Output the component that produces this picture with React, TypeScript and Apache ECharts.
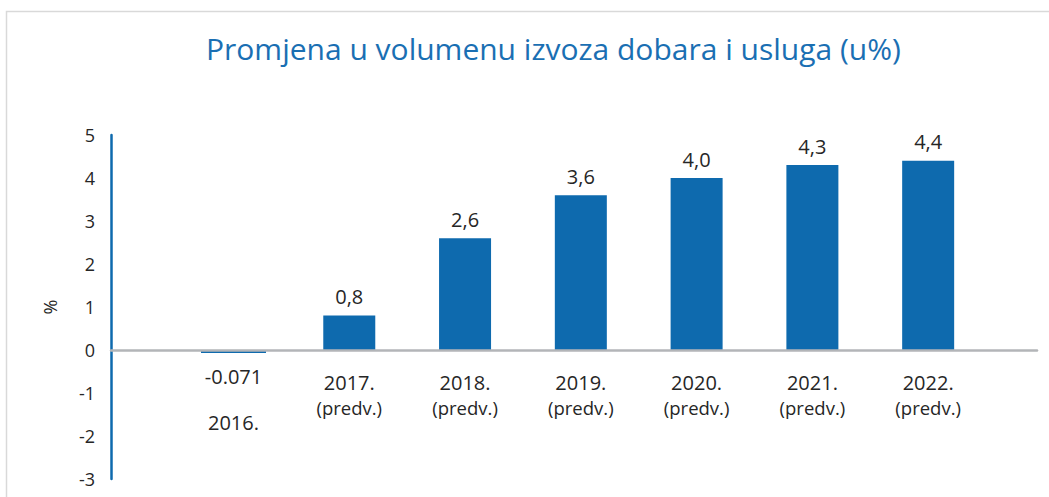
import React, { useEffect, useRef } from "react";
import * as echarts from "echarts";

const titleText = "Promjena u volumenu izvoza dobara i usluga (u%)";
const years = ["2016.", "2017.", "2018.", "2019.", "2020.", "2021.", "2022."];
const subLabels = ["", "(predv.)", "(predv.)", "(predv.)", "(predv.)", "(predv.)", "(predv.)"];
const values = [-0.071, 0.8, 2.6, 3.6, 4.0, 4.3, 4.4];
const yTicks = [-3, -2, -1, 0, 1, 2, 3, 4, 5];

const BAR = "#0e6aae";
const TEXT = "#262626";
const FONT = "'Open Sans', sans-serif";

export default function App() {
  const ref = useRef<HTMLDivElement>(null);
  useEffect(() => {
    if (!ref.current) return;
    const chart = echarts.init(ref.current, null, { renderer: "svg" });
    const positive = values.map((v, i) => (v >= 0 ? [i, v] : [i, null]));
    const negative = values.map((v, i) => (v < 0 ? [i, v] : [i, null]));
    const xMin = -1.058;
    const xMax = 6.94;
    const yMin = -3;
    const yMax = 5;
    const option: any = {
      animation: false,
      backgroundColor: "#ffffff",
      textStyle: { fontFamily: FONT },
      title: {
        text: titleText,
        left: 206,
        top: 33,
        padding: 0,
        textStyle: { color: "#1a6fb3", fontSize: 30, fontWeight: "normal", fontFamily: FONT },
      },
      graphic: [
        {
          type: "rect",
          shape: { x: 6.5, y: 11.5, width: 1100, height: 600 },
          style: { fill: "none", stroke: "#d9d9d9", lineWidth: 1.5 },
          silent: true,
          z: -10,
        },
      ],
      grid: [
        { left: 111, right: 12, top: 135, bottom: 18, containLabel: false, outerBoundsMode: "none" },
        { left: 111, right: 12, top: 135, bottom: 147, containLabel: false, outerBoundsMode: "none" },
      ],
      xAxis: [
        { type: "value", gridIndex: 0, min: xMin, max: xMax, show: false, splitLine: { show: false } },
        { type: "value", gridIndex: 0, min: xMin, max: xMax, show: false, splitLine: { show: false } },
        {
          type: "value",
          gridIndex: 1,
          min: xMin,
          max: xMax,
          position: "bottom",
          axisLine: { show: true, onZero: false, lineStyle: { color: "#b3b5b8", width: 2.5 } },
          axisTick: { show: false },
          splitLine: { show: false },
          axisLabel: {
            customValues: years.map((_, i) => i),
            margin: 20,
            formatter: (v: number) => {
              const i = Math.round(v);
              const sub = subLabels[i];
              if (sub) return `{y|${years[i]}}\n{s|${sub}}`;
              return `{e| }\n{y|${years[i]}}`;
            },
            rich: {
              y: { fontSize: 20, color: TEXT, fontFamily: FONT, lineHeight: 25 },
              s: { fontSize: 18.5, color: TEXT, fontFamily: FONT, lineHeight: 25 },
              e: { fontSize: 10, lineHeight: 40 },
            },
          },
          z: 5,
        },
      ],
      yAxis: [
        {
          type: "value",
          gridIndex: 0,
          min: yMin,
          max: yMax,
          interval: 1,
          name: "%",
          nameLocation: "middle",
          nameRotate: 90,
          nameGap: 52,
          nameTextStyle: { fontSize: 18, color: TEXT, fontFamily: FONT },
          axisLine: { show: true, onZero: false, lineStyle: { color: "#0e6aae", width: 2.5 } },
          axisTick: { show: false },
          splitLine: { show: false },
          axisLabel: {
            margin: 16,
            fontSize: 18,
            color: TEXT,
            fontFamily: FONT,
            customValues: yTicks,
            formatter: (v: number) => String(v),
          },
        },
        {
          type: "value",
          gridIndex: 1,
          min: 0,
          max: yMax,
          show: false,
          splitLine: { show: false },
        },
      ],
      series: [
        {
          type: "bar",
          xAxisIndex: 0,
          yAxisIndex: 0,
          data: positive,
          barWidth: 52,
          itemStyle: { color: BAR },
          label: {
            show: true,
            position: "top",
            distance: 9,
            fontSize: 20,
            color: TEXT,
            fontFamily: FONT,
            formatter: (p: any) => Number(p.value[1]).toFixed(1).replace(".", ","),
          },
          z: 1,
        },
        {
          type: "bar",
          xAxisIndex: 1,
          yAxisIndex: 0,
          data: negative,
          barWidth: 65,
          itemStyle: { color: BAR },
          label: {
            show: true,
            position: "bottom",
            distance: 13,
            fontSize: 20,
            color: TEXT,
            fontFamily: FONT,
            formatter: (p: any) => String(p.value[1]),
          },
          z: 1,
        },
      ],
    };
    chart.setOption(option);
    return () => chart.dispose();
  }, []);
  return (
    <div
      ref={ref}
      style={{ position: "fixed", left: 0, top: 0, width: 1049, height: 497, background: "#fff" }}
    />
  );
}
